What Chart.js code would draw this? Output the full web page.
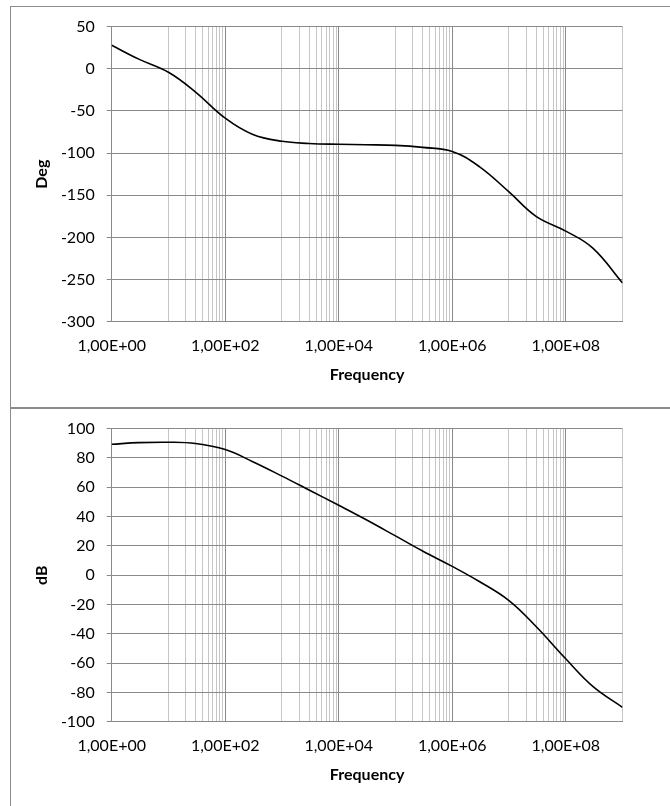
<!DOCTYPE html>
<html><head><meta charset="utf-8">
<script src="https://cdn.jsdelivr.net/npm/chart.js@4.4.0/dist/chart.umd.min.js"></script>
<style>
html,body{margin:0;padding:0;background:#fff;width:670px;height:806px;overflow:hidden;position:relative;}
.box{position:absolute;border:1px solid #8c8c8c;box-sizing:border-box;}
canvas{position:absolute;left:0;}
</style></head><body>
<div class="box" style="left:10px;top:6px;width:700px;height:402px"></div>
<div class="box" style="left:10px;top:408px;width:700px;height:500px"></div>
<canvas id="c1" width="670" height="407" style="top:0"></canvas>
<canvas id="c2" width="670" height="399" style="top:407px"></canvas>
<script>
// ---- data ----
const frequency = [1,3,10,30,100,300,1e3,3e3,1e4,3e4,1e5,3e5,1e6,3e6,1e7,3e7,1e8,3e8,1e9];
const phaseDeg  = [28,11.5,-4,-27.5,-58.5,-77.5,-86,-88.5,-89.5,-90,-90.8,-93.2,-98,-116,-146,-175,-192.5,-212.7,-254];
const gainDb    = [89.3,90.4,90.7,89.8,85.7,77.6,67.6,58.1,47.7,38,26.8,16.5,6,-4.3,-17.3,-35,-57,-75.8,-90.1];
const xTickLabels = ['1,00E+00','1,00E+02','1,00E+04','1,00E+06','1,00E+08'];
const phaseTicks = {min:-300, max:50, step:50};
const gainTicks  = {min:-100, max:100, step:20};
const titles = {x:'Frequency', phase:'Deg', gain:'dB'};

const FONT = 'Lato';
const MAJOR = '#8a8a8a', MINOR = '#c6c6c6';

function isMajor(v){const e=Math.log10(v);return Math.abs(e-Math.round(e))<1e-6 && Math.round(e)%2===0;}

function xTicksValues(){
  const vals=[];
  for(let k=0;k<=8;k+=2){
    vals.push(Math.pow(10,k));
    if(k+1<=9){
      const b=Math.pow(10,k+1);
      vals.push(b);
      if(k+1<9){for(let m=2;m<=9;m++) vals.push(m*b);}
    }
  }
  return vals;
}

function makeChart(id, values, yt, ytitle, area, canvasH, titleBottomPad){
  const xh = canvasH - area.bottom;
  return new Chart(document.getElementById(id), {
    type:'line',
    data:{labels:frequency, datasets:[{data:frequency.map((f,i)=>({x:f,y:values[i]})), borderColor:'#000', borderWidth:1.6, pointRadius:0, fill:false, tension:0.4}]},
    options:{
      responsive:false, animation:false,
      layout:{padding:{top:area.top, right:670-area.right, bottom:0, left:0}},
      plugins:{legend:{display:false}, tooltip:{enabled:false}},
      scales:{
        x:{type:'logarithmic', min:1, max:1e9,
          afterBuildTicks:(s)=>{s.ticks=xTicksValues().map(v=>({value:v}));},
          afterFit:(s)=>{s.height=xh;},
          ticks:{autoSkip:false, maxRotation:0, minRotation:0, padding:14.5, color:'#000', font:{family:FONT,size:16},
            callback:(v)=>{ if(!isMajor(v)) return ''; const e=Math.round(Math.log10(v)); return xTickLabels[e/2]; }},
          grid:{drawTicks:false, color:(c)=>(c.tick && isMajor(c.tick.value))?MAJOR:MINOR, lineWidth:1},
          border:{display:true,color:MAJOR},
          title:{display:true, text:titles.x, color:'#000', font:{family:FONT,size:16,weight:'bold'}, padding:{top:0,bottom:titleBottomPad}}
        },
        y:{min:yt.min, max:yt.max,
          afterFit:(s)=>{s.width=area.left;},
          ticks:{stepSize:yt.step, padding:12, color:'#000', font:{family:FONT,size:16}},
          grid:{color:MAJOR, tickLength:5, lineWidth:1},
          border:{display:true,color:MAJOR},
          title:{display:true, text:ytitle, color:'#000', font:{family:FONT,size:16,weight:'bold'}, padding:{top:32,bottom:0}}
        }
      }
    }
  });
}

makeChart('c1', phaseDeg, phaseTicks, titles.phase, {left:111.7, right:622.5, top:26.7, bottom:321.7}, 407, 22.4);
makeChart('c2', gainDb, gainTicks, titles.gain, {left:111.7, right:622.5, top:20.3, bottom:314.8}, 399, 21.4);
</script>
</body></html>
